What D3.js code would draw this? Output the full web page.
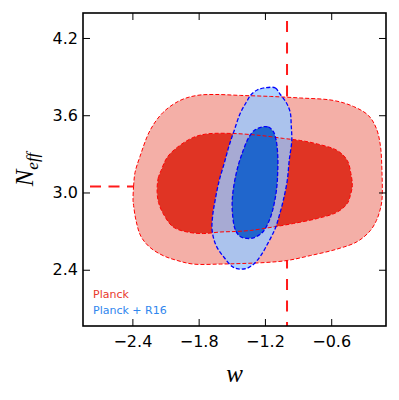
<!DOCTYPE html>
<html>
<head>
<meta charset="utf-8">
<script src="https://cdn.jsdelivr.net/npm/d3@7"></script>
<style>
  body { margin: 0; background: #fff; }
  svg { display: block; }
</style>
</head>
<body>
<div id="chart"></div>
<script>
// tick values
const xTicks = [-2.4, -1.8, -1.2, -0.6];
const yTicks = [2.4, 3.0, 3.6, 4.2];

// contours, [w, Neff]
const planckOuter = [
  [-2.394, 2.938], [-2.389, 3.047], [-2.376, 3.155], [-2.331, 3.280], [-2.240, 3.482],
  [-2.122, 3.622], [-1.968, 3.715], [-1.814, 3.754], [-1.651, 3.761], [-1.424, 3.754],
  [-1.152, 3.746], [-0.880, 3.734], [-0.581, 3.715], [-0.399, 3.668], [-0.263, 3.598],
  [-0.191, 3.497], [-0.155, 3.365], [-0.141, 3.171], [-0.141, 2.938], [-0.164, 2.845],
  [-0.191, 2.782], [-0.245, 2.705], [-0.363, 2.619], [-0.545, 2.561], [-0.789, 2.510],
  [-0.998, 2.472], [-1.197, 2.456], [-1.424, 2.448], [-1.605, 2.444], [-1.850, 2.444],
  [-1.995, 2.472], [-2.122, 2.510], [-2.240, 2.573], [-2.322, 2.658], [-2.367, 2.782],
  [-2.389, 2.899]
];
const planckInner = [
  [-2.176, 3.000], [-2.167, 3.109], [-2.140, 3.171], [-2.086, 3.272], [-1.995, 3.350],
  [-1.850, 3.427], [-1.723, 3.455], [-1.487, 3.458], [-1.243, 3.443], [-1.034, 3.420],
  [-0.880, 3.404], [-0.726, 3.377], [-0.545, 3.326], [-0.454, 3.249], [-0.422, 3.148],
  [-0.409, 3.054], [-0.427, 2.977], [-0.454, 2.915], [-0.545, 2.848], [-0.726, 2.798],
  [-0.943, 2.759], [-1.125, 2.732], [-1.333, 2.705], [-1.469, 2.697], [-1.605, 2.693],
  [-1.759, 2.681], [-1.904, 2.693], [-2.031, 2.732], [-2.122, 2.837], [-2.163, 2.922]
];
const r16Outer = [
  [-1.206, 3.812], [-1.107, 3.812], [-1.061, 3.761], [-1.007, 3.699], [-0.971, 3.622],
  [-0.962, 3.521], [-0.957, 3.404], [-0.980, 3.249], [-0.998, 3.093], [-1.034, 2.938],
  [-1.070, 2.821], [-1.107, 2.720], [-1.170, 2.611], [-1.243, 2.503], [-1.306, 2.441],
  [-1.370, 2.409], [-1.442, 2.406], [-1.496, 2.425], [-1.569, 2.495], [-1.642, 2.588],
  [-1.678, 2.705], [-1.673, 2.821], [-1.651, 2.938], [-1.614, 3.093], [-1.569, 3.225],
  [-1.524, 3.365], [-1.478, 3.482], [-1.424, 3.614], [-1.370, 3.699], [-1.324, 3.761],
  [-1.270, 3.796]
];
const r16Inner = [
  [-1.224, 3.509], [-1.170, 3.509], [-1.125, 3.474], [-1.098, 3.404], [-1.084, 3.287],
  [-1.084, 3.171], [-1.093, 3.039], [-1.120, 2.899], [-1.161, 2.782], [-1.224, 2.689],
  [-1.297, 2.650], [-1.360, 2.643], [-1.424, 2.658], [-1.469, 2.713], [-1.492, 2.821],
  [-1.496, 2.938], [-1.478, 3.070], [-1.442, 3.210], [-1.397, 3.326], [-1.351, 3.420],
  [-1.297, 3.482]
];

// reference values
const wRef = -1.0;
const neffRef = 3.046;

const legendNames = ["Planck", "Planck + R16"];

const width = 399, height = 400;
const m = { left: 83, right: 386, top: 13, bottom: 326 };

const svg = d3.select("#chart").append("svg")
  .attr("width", width)
  .attr("height", height);

const x = d3.scaleLinear().domain([-2.847, -0.104]).range([m.left, m.right]);
const y = d3.scaleLinear().domain([1.963, 4.394]).range([m.bottom, m.top]);

const line = d3.line()
  .x(d => x(d[0]))
  .y(d => y(d[1]))
  .curve(d3.curveCatmullRomClosed.alpha(0.5));

const plot = svg.append("g");

// reference lines (drawn first, fills hide parts of them)
plot.append("line")
  .attr("x1", x(wRef)).attr("x2", x(wRef))
  .attr("y1", y.range()[1]).attr("y2", y.range()[0])
  .attr("stroke", "#ff1a1a")
  .attr("stroke-width", 2)
  .attr("stroke-dasharray", "11,10.5")
  .attr("stroke-dashoffset", 13.5);
plot.append("line")
  .attr("x1", x.range()[0]).attr("x2", x.range()[1])
  .attr("y1", y(neffRef)).attr("y2", y(neffRef))
  .attr("stroke", "#ff1a1a")
  .attr("stroke-width", 2)
  .attr("stroke-dasharray", "11,7.5")
  .attr("stroke-dashoffset", -7);

// Planck filled bands
plot.append("path").attr("d", line(planckOuter) + line(planckInner))
  .attr("fill-rule", "evenodd").attr("fill", "#f4afa7");
plot.append("path").attr("d", line(planckInner)).attr("fill", "#e03424");

// Planck + R16 filled bands
plot.append("path").attr("d", line(r16Outer) + line(r16Inner))
  .attr("fill-rule", "evenodd").attr("fill", "#98c8ff").attr("fill-opacity", 0.8);
plot.append("path").attr("d", line(r16Inner)).attr("fill", "#2066cc");

// contour edges
[planckOuter, planckInner].forEach(c => {
  plot.append("path").attr("d", line(c))
    .attr("fill", "none").attr("stroke", "#ff0000")
    .attr("stroke-width", 1).attr("stroke-dasharray", "4,2");
});
[r16Outer, r16Inner].forEach(c => {
  plot.append("path").attr("d", line(c))
    .attr("fill", "none").attr("stroke", "#0000ff")
    .attr("stroke-width", 1.3).attr("stroke-dasharray", "4,2");
});

// axes, ticks pointing inwards on every side
const fmt = d3.format(".1f");
const tickFont = g => g.selectAll("text")
  .attr("font-family", "DejaVu Sans")
  .attr("font-size", 16)
  .attr("fill", "#000");

svg.append("g").attr("transform", `translate(0,${m.bottom})`)
  .call(d3.axisBottom(x).tickValues(xTicks).tickSize(-7).tickPadding(10).tickFormat(fmt))
  .call(g => g.select(".domain").remove())
  .call(tickFont);
svg.append("g").attr("transform", `translate(0,${m.top})`)
  .call(d3.axisTop(x).tickValues(xTicks).tickSize(-7).tickFormat(""))
  .call(g => g.select(".domain").remove());
svg.append("g").attr("transform", `translate(${m.left},0)`)
  .call(d3.axisLeft(y).tickValues(yTicks).tickSize(-7).tickPadding(5).tickFormat(fmt))
  .call(g => g.select(".domain").remove())
  .call(tickFont);
svg.append("g").attr("transform", `translate(${m.right},0)`)
  .call(d3.axisRight(y).tickValues(yTicks).tickSize(-7).tickFormat(""))
  .call(g => g.select(".domain").remove());

// frame
svg.append("rect")
  .attr("x", m.left).attr("y", m.top)
  .attr("width", m.right - m.left).attr("height", m.bottom - m.top)
  .attr("fill", "none").attr("stroke", "#000").attr("stroke-width", 1.6);

// axis labels
svg.append("text")
  .attr("x", (m.left + m.right) / 2).attr("y", 382)
  .attr("text-anchor", "middle")
  .attr("font-family", "Liberation Serif").attr("font-style", "italic")
  .attr("font-size", 25)
  .text("w");

const ylab = svg.append("text")
  .attr("transform", `translate(33,${(m.top + m.bottom) / 2}) rotate(-90)`)
  .attr("text-anchor", "middle")
  .attr("font-family", "Liberation Serif").attr("font-style", "italic")
  .attr("font-size", 25);
ylab.append("tspan").text("N");
ylab.append("tspan").attr("font-size", 17).attr("dy", 5).text("eff");

// legend
const legendColors = ["#e8392c", "#2f86ee"];
svg.selectAll(".legend")
  .data(legendNames)
  .join("text")
  .attr("class", "legend")
  .attr("x", 93)
  .attr("y", (d, i) => 298 + i * 16)
  .attr("font-family", "DejaVu Sans")
  .attr("font-size", 11)
  .attr("fill", (d, i) => legendColors[i])
  .text(d => d);
</script>
</body>
</html>
